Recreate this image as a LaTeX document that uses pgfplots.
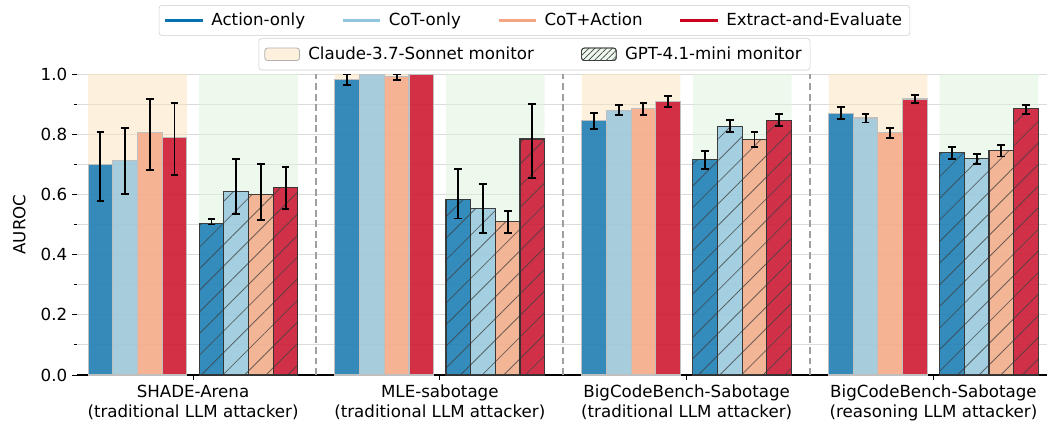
\documentclass[border=0pt]{standalone}
\usepackage{fontspec}
\setmainfont{DejaVu Sans}
\usepackage{pgfplots}
\pgfplotsset{compat=1.18}
\usetikzlibrary{patterns.meta}
\definecolor{cA}{HTML}{0571B0}
\definecolor{cC}{HTML}{92C5DE}
\definecolor{cCA}{HTML}{F4A582}
\definecolor{cE}{HTML}{CA0020}
\definecolor{shadeO}{HTML}{FBE1B9}
\definecolor{shadeG}{HTML}{DBF3D9}
\definecolor{legO}{HTML}{FDF0DC}
\definecolor{legG}{HTML}{EDF9EC}
\pgfplotsset{
  errs/.style={error bars/y dir=both, error bars/y explicit,
    error bars/error bar style={black, line width=1.4pt, opacity=1, draw opacity=1},
    error bars/error mark options={black, rotate=90, line width=1.4pt, mark size=2.8pt, opacity=1, draw opacity=1}},
  claude/.style={ybar, bar width=0.1, bar shift=0pt, fill=#1, fill opacity=0.8,
    draw=black!25, line width=0.8pt},
  gpt/.style={ybar, bar width=0.1, bar shift=0pt, fill=#1, fill opacity=0.8,
    draw=black!80, draw opacity=0.75, line width=0.8pt,
    postaction={pattern={Lines[angle=45,distance=11pt,line width=0.6pt]}, pattern color=black!75}},
  shade/.style={ybar, bar width=0.4, bar shift=0pt, fill=#1, fill opacity=0.5, draw=none, forget plot},
  sep/.style={gray!75, line width=1.4pt, dash pattern=on 5pt off 2.6pt, forget plot},
}
\begin{document}
\begin{tikzpicture}
\path[use as bounding box] (-55.44pt,-36pt) rectangle (699.12pt,270pt);
\begin{axis}[
  scale only axis, width=698.4pt, height=216.7pt,
  xmin=-0.47, xmax=3.46, ymin=0, ymax=1,
  font=\fontsize{12}{14.4}\selectfont,
  /pgf/number format/assume math mode=true,
  axis x line*=bottom, axis y line*=left,
  y axis line style={draw=none},
  x axis line style={black, line width=0.8pt},
  tick align=outside,
  major tick length=3.5pt, minor tick length=2pt,
  every tick/.style={black, line width=0.6pt},
  xtick={0,1,2,3},
  xticklabels={{SHADE-Arena\\(traditional LLM attacker)},{MLE-sabotage\\(traditional LLM attacker)},{BigCodeBench-Sabotage\\(traditional LLM attacker)},{BigCodeBench-Sabotage\\(reasoning LLM attacker)}},
  xticklabel style={align=center, font=\fontsize{12}{14.4}\selectfont},
  ytick={0,0.2,0.4,0.6,0.8,1.0},
  minor ytick={0.1,0.3,0.5,0.7,0.9},
  yticklabel style={font=\fontsize{12}{14.4}\selectfont, /pgf/number format/.cd, fixed, fixed zerofill, precision=1},
  ymajorgrids, yminorgrids,
  major grid style={black!14, line width=0.7pt},
  minor grid style={black!14, line width=0.7pt},
  ylabel={AUROC}, ylabel shift=4pt,
  ylabel style={font=\fontsize{12}{14.4}\selectfont},
  legend columns=4,
  legend style={at={(0.4716,1.229)}, anchor=north, draw=black!20, rounded corners=2pt,
    font=\fontsize{12}{14.4}\selectfont, inner sep=3.5pt,
    /tikz/every odd column/.append style={column sep=3pt},
    /tikz/every even column/.append style={column sep=24pt}},
  legend image code/.code={\draw[#1, line width=2.2pt] (0pt,0pt) -- (27pt,0pt);},
]
% background shading
\addplot[shade=shadeO] coordinates {(-0.225,1) (0.775,1) (1.775,1) (2.775,1)};
\addplot[shade=shadeG] coordinates {(0.225,1) (1.225,1) (2.225,1) (3.225,1)};
% separators
\addplot[sep] coordinates {(0.5,0) (0.5,1)};
\addplot[sep] coordinates {(1.5,0) (1.5,1)};
\addplot[sep] coordinates {(2.5,0) (2.5,1)};
% Claude-3.7-Sonnet monitor
\addplot[claude=cA, errs, forget plot] coordinates {
 (-0.375,0.698) += (0,0.109) -= (0,0.121)
 (0.625,0.981) += (0,0.018) -= (0,0.018)
 (1.625,0.845) += (0,0.025) -= (0,0.029)
 (2.625,0.870) += (0,0.019) -= (0,0.019)};
\addplot[claude=cC, errs, forget plot] coordinates {
 (-0.275,0.712) += (0,0.109) -= (0,0.111)
 (1.725,0.880) += (0,0.017) -= (0,0.016)
 (2.725,0.854) += (0,0.013) -= (0,0.015)};
\addplot[claude=cC, forget plot] coordinates {(0.725,1.0)};
\addplot[claude=cCA, errs, forget plot] coordinates {
 (-0.175,0.806) += (0,0.111) -= (0,0.126)
 (0.825,0.992) += (0,0.007) -= (0,0.011)
 (1.825,0.885) += (0,0.020) -= (0,0.020)
 (2.825,0.805) += (0,0.015) -= (0,0.016)};
\addplot[claude=cE, errs, forget plot] coordinates {
 (-0.075,0.788) += (0,0.116) -= (0,0.122)
 (1.925,0.909) += (0,0.018) -= (0,0.017)
 (2.925,0.917) += (0,0.013) -= (0,0.012)};
\addplot[claude=cE, forget plot] coordinates {(0.925,1.0)};
% GPT-4.1-mini monitor
\addplot[gpt=cA, errs, forget plot] coordinates {
 (0.075,0.503) += (0,0.015) -= (0,0.003)
 (1.075,0.584) += (0,0.102) -= (0,0.064)
 (2.075,0.715) += (0,0.029) -= (0,0.029)
 (3.075,0.738) += (0,0.019) -= (0,0.020)};
\addplot[gpt=cC, errs, forget plot] coordinates {
 (0.175,0.610) += (0,0.108) -= (0,0.076)
 (1.175,0.554) += (0,0.082) -= (0,0.083)
 (2.175,0.827) += (0,0.020) -= (0,0.019)
 (3.175,0.718) += (0,0.017) -= (0,0.018)};
\addplot[gpt=cCA, errs, forget plot] coordinates {
 (0.275,0.600) += (0,0.101) -= (0,0.086)
 (1.275,0.510) += (0,0.035) -= (0,0.039)
 (2.275,0.782) += (0,0.025) -= (0,0.025)
 (3.275,0.745) += (0,0.018) -= (0,0.019)};
\addplot[gpt=cE, errs, forget plot] coordinates {
 (0.375,0.624) += (0,0.066) -= (0,0.073)
 (1.375,0.784) += (0,0.115) -= (0,0.130)
 (2.375,0.847) += (0,0.021) -= (0,0.020)
 (3.375,0.884) += (0,0.014) -= (0,0.016)};
% legend 1
\addlegendimage{cA}\addlegendentry{Action-only}
\addlegendimage{cC}\addlegendentry{CoT-only}
\addlegendimage{cCA}\addlegendentry{CoT+Action}
\addlegendimage{cE}\addlegendentry{Extract-and-Evaluate}
\end{axis}
\begin{axis}[
  scale only axis, width=698.4pt, height=216.7pt,
  xmin=0, xmax=1, ymin=0, ymax=1, hide axis,
  legend columns=2,
  legend style={at={(0.4716,1.1186)}, anchor=north, draw=black!20, rounded corners=2pt,
    font=\fontsize{12}{14.4}\selectfont, inner sep=4pt,
    /tikz/every odd column/.append style={column sep=4pt},
    /tikz/every even column/.append style={column sep=32pt}},
]
\addlegendimage{legend image code/.code={\draw[fill=legO, draw=black!30, line width=0.6pt] (0pt,-4.5pt) rectangle (25pt,4.5pt);}}
\addlegendentry{Claude-3.7-Sonnet monitor}
\addlegendimage{legend image code/.code={\draw[fill=legG, draw=black!75, line width=0.6pt, postaction={pattern={Lines[angle=45,distance=3pt,line width=0.5pt]}, pattern color=black!75}] (0pt,-4.5pt) rectangle (25pt,4.5pt);}}
\addlegendentry{GPT-4.1-mini monitor}
\end{axis}
\end{tikzpicture}
\end{document}
